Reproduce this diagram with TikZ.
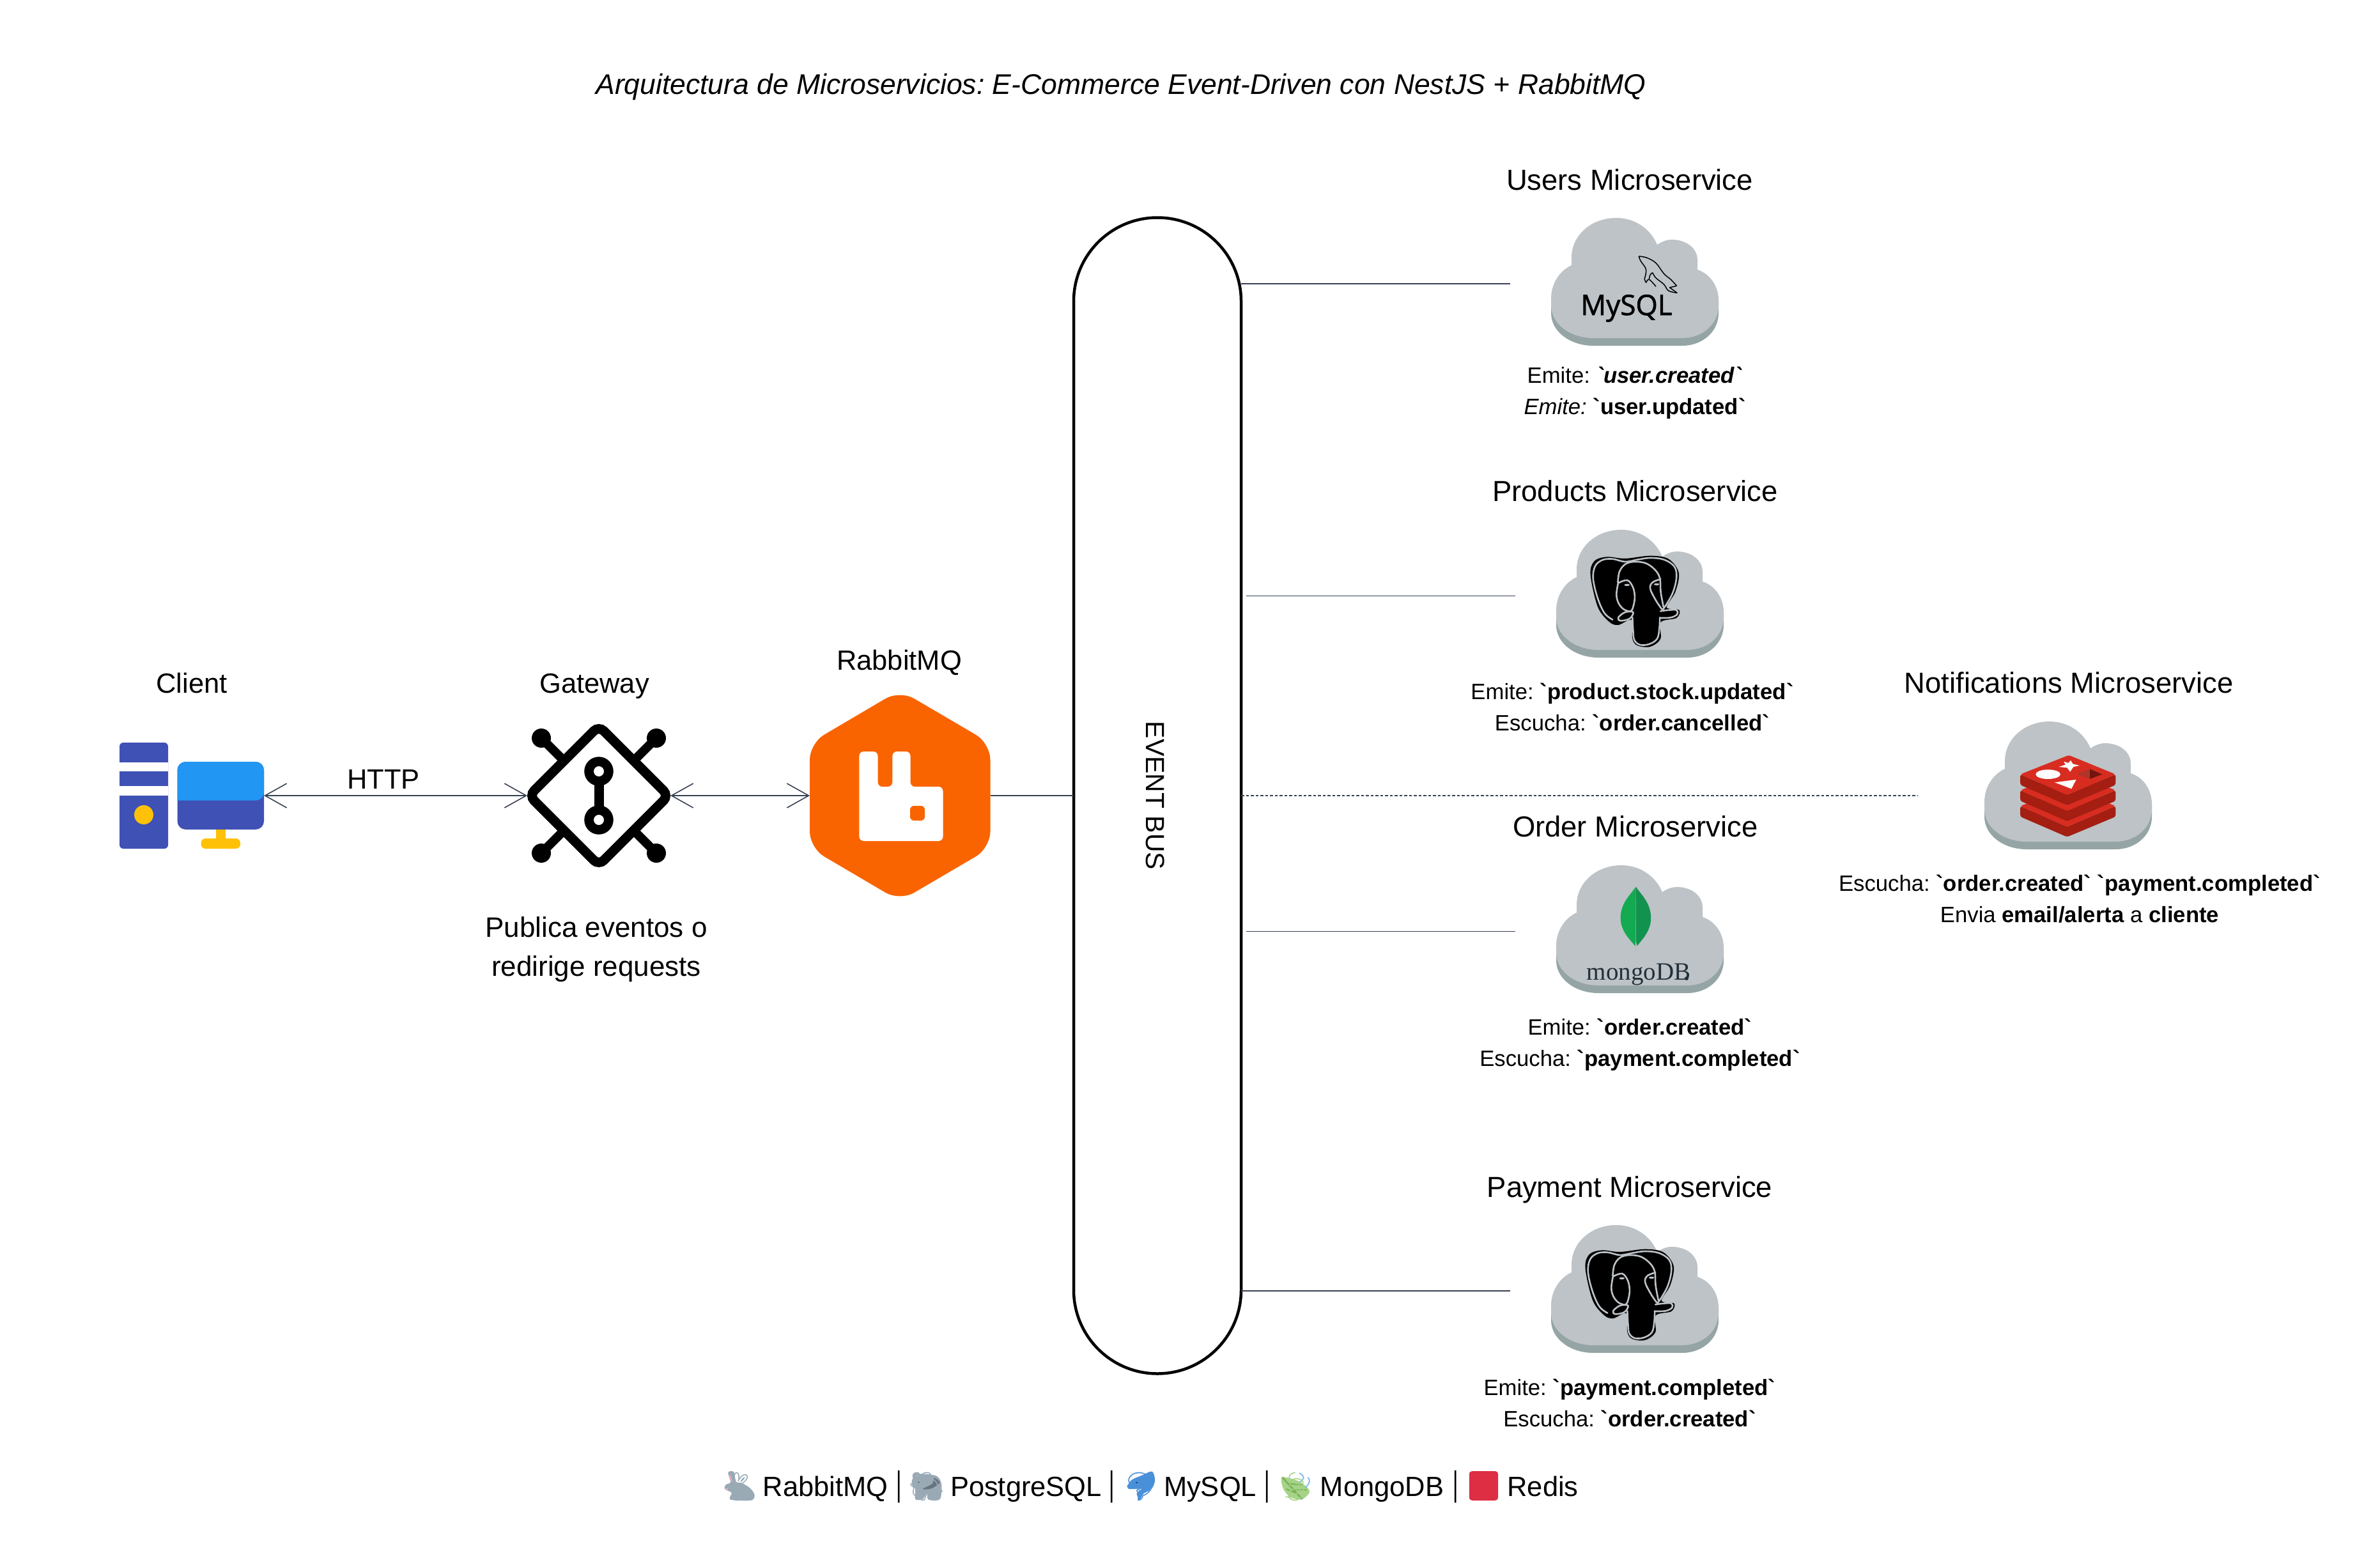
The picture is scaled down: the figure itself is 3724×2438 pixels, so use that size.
\documentclass[tikz,border=0pt]{standalone}
\usepackage{graphicx}
\usepackage{fontspec}
\setmainfont{Liberation Sans}[Ligatures=TeXOff]
\newfontfamily\emojifont{Noto Emoji}
\newfontfamily\mysqlfont{Open Sans}[Ligatures=TeXOff,FakeBold=1.6]
\newfontfamily\mongofont{Liberation Serif}[Ligatures=TeXOff]
\usetikzlibrary{arrows.meta}
\definecolor{linec}{HTML}{374151}
\definecolor{cloudtop}{HTML}{BDC3C7}
\definecolor{cloudbot}{HTML}{95A5A6}
\definecolor{rmq}{HTML}{F96400}
\definecolor{indigo}{HTML}{3F51B5}
\definecolor{skyb}{HTML}{2196F3}
\definecolor{amber}{HTML}{FFC107}
\definecolor{redl}{HTML}{D82C20}
\definecolor{redd}{HTML}{A41E11}
\definecolor{leafl}{HTML}{13AA52}
\definecolor{leafd}{HTML}{12924F}
\definecolor{mongot}{HTML}{23303A}
\definecolor{emgray}{HTML}{99AAB5}
\definecolor{emdark}{HTML}{66757F}
\definecolor{emblue}{HTML}{4A90D9}
\definecolor{emgreen}{HTML}{A6D388}
\definecolor{emvein}{HTML}{77B255}
\definecolor{emsky}{HTML}{7FB8E8}
\definecolor{emred}{HTML}{DD2E44}
\definecolor{empink}{HTML}{F4ABBA}
\newcommand{\fs}[1]{\fontsize{#1}{#1}\selectfont}
\newcommand{\pipechar}{\scalebox{0.6}[1]{|}}
\tikzset{
  iconbox/.style={inner sep=0pt,outer sep=0pt,draw=none},
  lab/.style={inner sep=0pt,outer sep=0pt,anchor=base,font=\fs{43.5}},
  svc/.style={lab,font=\fs{45.4}},
  evt/.style={inner sep=0pt,outer sep=0pt,anchor=base,align=center,font=\fontsize{34.7}{49}\selectfont\frenchspacing},
  conn/.style={draw=linec,line width=2pt},
  connthin/.style={draw=linec,line width=1.3pt},
  biarrow/.style={conn,{Straight Barb[length=34pt,width=38pt,line width=1.6pt]}-{Straight Barb[length=34pt,width=38pt,line width=1.6pt]}},
  leg/.style={inner sep=0pt,outer sep=0pt,anchor=base,font=\fs{43.5}},
  pipe/.style={inner sep=0pt,outer sep=0pt,anchor=base,font=\fs{54}},
  emo/.style={inner sep=0pt,outer sep=0pt,anchor=center,font=\emojifont\fs{44}},
}
\newcommand{\cloudicon}[2]{%
  \begin{scope}[shift={(#1,#2)}]
    \fill[cloudbot] (0,149) .. controls (0,178) and (30,200) .. (66,200) -- (205,200) .. controls (237,200) and (262,178) .. (262,149) -- (262,129) -- (0,129) -- cycle;
    \fill[cloudtop] (0,137) .. controls (0,166) and (30,188) .. (66,188) -- (205,188) .. controls (237,188) and (262,166) .. (262,137) -- (262,129) .. controls (262,108) and (250,88) .. (229,81) -- (229,66) .. controls (229,47) and (211,34) .. (189,34) .. controls (181,34) and (173,37) .. (166,42) .. controls (155,16) and (130,0) .. (102,0) .. controls (63,0) and (32,27) .. (32,62) -- (32,74) .. controls (13,83) and (0,103) .. (0,126) -- cycle;
  \end{scope}}
\newcommand{\elephant}[2]{%
  \begin{scope}[shift={(#1,#2)},xscale=0.3571,yscale=0.3333,shift={(-378,-268)}]
    \fill[black] plot[smooth cycle,tension=0.55] coordinates {(528,480) (545,415) (600,395) (680,403) (790,390) (870,405) (915,470) (900,560) (862,632) (917,645) (905,682) (836,702) (835,780) (790,817) (735,812) (712,780) (708,692) (650,715) (610,700) (560,630)};
    \begin{scope}[draw=cloudtop,line width=2.6pt,line cap=round]
      \draw plot[smooth,tension=0.6] coordinates {(625,690) (590,660) (560,590) (540,500) (548,440) (580,410) (625,405) (680,418) (735,408) (790,400) (850,408) (895,440) (905,490) (890,560) (860,620) (842,645)};
      \draw plot[smooth,tension=0.6] coordinates {(648,515) (655,465) (680,430) (720,418) (770,425) (810,455) (832,495) (836,560) (848,630)};
      \draw plot[smooth,tension=0.6] coordinates {(650,515) (642,570) (650,610) (672,640) (700,652)};
      \draw plot[smooth,tension=0.6] coordinates {(652,517) (690,505) (715,540) (722,590) (712,640) (700,652)};
      \draw plot[smooth,tension=0.6] coordinates {(835,500) (800,515) (790,545) (815,600) (840,640)};
      \draw plot[smooth cycle,tension=0.6] coordinates {(715,655) (680,655) (650,680) (660,695) (700,685)};
      \draw plot[smooth,tension=0.6] coordinates {(835,650) (870,645) (905,645) (908,665) (880,680) (835,682)};
      \draw plot[smooth,tension=0.6] coordinates {(712,680) (715,740) (720,785) (745,808) (785,805) (820,780) (830,730) (832,680)};
    \end{scope}
    \fill[cloudtop] (688,527) ellipse (12 and 5);
    \fill[cloudtop] (818,524) ellipse (12 and 5);
  \end{scope}}
\newcommand{\redislayer}[1]{%
  \fill[redd,rounded corners=3pt] (595,515+#1) -- (735,612+#1) -- (880,515+#1) -- (880,565+#1) -- (735,660+#1) -- (595,565+#1) -- cycle;
  \fill[redl,rounded corners=3pt] (740,425+#1) -- (880,515+#1) -- (735,612+#1) -- (595,515+#1) -- cycle;}
\begin{document}
\begin{tikzpicture}[x=1pt,y=-1pt]
\useasboundingbox (0,0) rectangle (3724,2438);
\fill[white] (0,0) rectangle (3724,2438);

% title
\node[lab,font=\itshape\fs{44.5}\frenchspacing] (title) at (1754,147) {Arquitectura de Microservicios: E-Commerce Event-Driven con NestJS + RabbitMQ};

% ---------- client
\node[iconbox,minimum width=226pt,minimum height=166pt] (client) at (300,1245) {};
\fill[indigo,rounded corners=6pt] (187,1162) rectangle (263,1328);
\fill[white] (187,1192.5) rectangle (263,1207);
\fill[white] (187,1230) rectangle (263,1245);
\fill[amber] (225,1275) ellipse (15 and 15);
\fill[amber] (337.5,1296) rectangle (353,1315);
\fill[amber,rounded corners=7pt] (314.5,1312) rectangle (376,1328);
\fill[indigo,rounded corners=13pt] (277.5,1192) rectangle (413,1298);
\fill[skyb,rounded corners=13pt] (277.5,1252.6) -- (277.5,1192) -- (413,1192) -- (413,1252.6) [sharp corners] -- cycle;
\node[lab] (clientlab) at (300,1084) {Client};

% ---------- gateway
\node[iconbox,minimum width=224pt,minimum height=226pt] (gateway) at (937,1245) {};
\draw[line width=14pt] (847,1155) -- (887,1195);
\draw[line width=14pt] (1027,1155) -- (987,1195);
\draw[line width=14pt] (847,1335) -- (887,1295);
\draw[line width=14pt] (1027,1335) -- (987,1295);
\fill (847,1155) circle (15);
\fill (1027,1155) circle (15);
\fill (847,1335) circle (15);
\fill (1027,1335) circle (15);
\draw[line width=15pt,rounded corners=11pt,fill=white] (937,1136) -- (1046,1245) -- (937,1354) -- (828,1245) -- cycle;
\draw[line width=15pt] (937,1207) -- (937,1283);
\draw[line width=14.7pt,fill=white] (937,1207) circle (15.4);
\draw[line width=14.7pt,fill=white] (937,1283) circle (15.4);
\node[lab] (gatewaylab) at (930,1084) {Gateway};
\node[lab,align=center,font=\fontsize{44}{61}\selectfont] (gatewaynote) at (933,1527) {Publica eventos o\\redirige requests};

% ---------- rabbitmq
\node[iconbox,minimum width=282.5pt,minimum height=314pt] (rabbit) at (1408.25,1245) {};
\fill[rmq,rounded corners=26pt] (1408,1080) -- (1549.5,1163) -- (1549.5,1327) -- (1408,1410) -- (1267,1327) -- (1267,1163) -- cycle;
\fill[white,rounded corners=7pt] (1344.4,1176) -- (1373.5,1176) -- (1373.5,1231) -- (1396.4,1231) -- (1396.4,1176) -- (1424.5,1176) -- (1424.5,1231) -- (1475.5,1231) -- (1475.5,1316) -- (1344.4,1316) -- cycle;
\fill[rmq,rounded corners=6pt] (1424,1261) rectangle (1447,1284);
\node[lab] (rabbitlab) at (1407,1048) {RabbitMQ};

% ---------- bus
\node[draw=black,line width=4.5pt,fill=white,inner sep=0pt,outer sep=0pt,rounded corners=131pt,minimum width=262pt,minimum height=1809pt] (bus) at (1811,1245) {};
\node[rotate=-90,inner sep=0pt,outer sep=0pt,font=\fs{41}] (bustext) at (1808,1245) {EVENT BUS};

% ---------- clouds
\node[iconbox,minimum width=262pt,minimum height=200pt] (cusers) at (2558,441) {};
\node[iconbox,minimum width=262pt,minimum height=200pt] (cprod) at (2566,929) {};
\node[iconbox,minimum width=262pt,minimum height=200pt] (corder) at (2566,1454) {};
\node[iconbox,minimum width=262pt,minimum height=200pt] (cpay) at (2558,2017) {};
\node[iconbox,minimum width=263pt,minimum height=200pt] (cnotif) at (3236,1229) {};
\cloudicon{2427}{341}
\cloudicon{2435}{829}
\cloudicon{2435}{1354}
\cloudicon{2427}{1917}
\cloudicon{3105}{1129}

% mysql logo
\node[inner sep=0pt,anchor=base,font=\mysqlfont\fs{44}] (mysqltext) at (2545,493) {MySQL};
\begin{scope}[shift={(2300,240)},xscale=0.3571,yscale=0.3333,line width=1.5pt,line join=round]
  \draw plot[smooth,tension=0.6] coordinates {(740,483) (775,490) (815,515) (850,565) (880,592) (906,622)};
  \draw (906,622) -- (875,630) -- (908,655);
  \draw plot[smooth,tension=0.6] coordinates {(908,655) (870,645) (850,615) (815,585) (800,560)};
  \draw plot[smooth,tension=0.6] coordinates {(740,483) (748,505) (770,540) (770,570) (765,590) (772,607)};
  \draw plot[smooth,tension=0.6] coordinates {(772,607) (785,592) (815,625)};
  \draw plot[smooth,tension=0.6] coordinates {(785,590) (790,570) (800,560)};
\end{scope}

% postgres logos
\elephant{2435}{829}
\elephant{2427}{1914}

% mongo logo
\begin{scope}[shift={(2300,1270)},xscale=0.3571,yscale=0.3333]
  \draw[cloudbot!70,line width=1pt] (727,625) -- (727,668);
  \fill[leafl] (727,353) .. controls (700,395) and (660,430) .. (660,500) .. controls (660,560) and (700,600) .. (725,632) -- cycle;
  \fill[leafd] (727,353) .. controls (754,395) and (793,430) .. (793,500) .. controls (793,560) and (755,600) .. (733,630) -- (727,610) -- cycle;
\end{scope}
\node[inner sep=0pt,anchor=base,text=mongot,font=\mongofont\fs{39}] (mongotext) at (2564,1533) {mongoDB};
\fill[mongot] (2639,1531) circle (3);

% redis logo
\begin{scope}[shift={(2850,1040)},xscale=0.523,yscale=0.3333]
  \redislayer{149}
  \redislayer{75}
  \redislayer{0}
  \fill[white] (678,515) ellipse (37 and 22);
  \fill[white] (746,450) -- (752,466) -- (772,474) -- (754,480) -- (744,503) -- (735,484) -- (710,480) -- (730,470) -- (725,455) -- (738,462) -- cycle;
  \fill[white] (762,540) -- (698,553) -- (748,583) -- cycle;
  \fill[redd!90] (803,490) -- (765,513) -- (803,537) -- cycle;
  \fill[redd!70!black] (803,490) -- (840,515) -- (803,537) -- cycle;
\end{scope}

% ---------- connector ends
\coordinate (usersend) at (2362.5,444.3);
\coordinate (prodstart) at (1950,932.3);
\coordinate (prodend) at (2370.7,932.3);
\coordinate (orderstart) at (1950,1457.7);
\coordinate (orderend) at (2370.7,1457.7);
\coordinate (payend) at (2362.5,2020);
\coordinate (notifend) at (3000.6,1244.5);

\draw[biarrow] (client.east) -- (gateway.west);
\draw[biarrow] (gateway.east) -- (rabbit.west);
\draw[conn] (rabbit.east) -- (bus.west);
\draw[conn] (bus.east |- usersend) -- (usersend);
\draw[connthin] (prodstart) -- (prodend);
\draw[connthin] (orderstart) -- (orderend);
\draw[conn] (bus.east |- payend) -- (payend);
\draw[draw=linec,line width=2pt,dash pattern=on 4.5pt off 3pt] (bus.east |- notifend) -- (notifend);
\node[lab] (http) at (600,1234) {HTTP};

% ---------- service titles
\node[svc] (tusers) at (2550,297) {Users Microservice};
\node[svc] (tprod) at (2558.6,784) {Products Microservice};
\node[svc] (torder) at (2558.7,1309) {Order Microservice};
\node[svc] (tpay) at (2550,1873) {Payment Microservice};
\node[svc] (tnotif) at (3237,1084) {Notifications Microservice};

% ---------- events
\node[evt] (eusers) at (2558,648) {Emite: \textbf{\textit{`user.created`}}\\\textit{Emite:} \textbf{`user.updated`}};
\node[evt] (eprod) at (2554,1143) {Emite: \textbf{`product.stock.updated`}\\Escucha: \textbf{`order.cancelled`}};
\node[evt] (eorder) at (2566,1668) {Emite: \textbf{`order.created`}\\Escucha: \textbf{`payment.completed`}};
\node[evt] (epay) at (2550,2232) {Emite: \textbf{`payment.completed`}\\Escucha: \textbf{`order.created`}};
\node[evt] (enotif) at (3254,1443) {Escucha: \textbf{`order.created`} \textbf{`payment.completed`}\\Envia \textbf{email/alerta} a \textbf{cliente}};

% ---------- legend: solid emoji bodies under the emoji glyphs
\begin{scope}[shift={(1100,2280)},xscale=0.8929,yscale=0.3333]
  \fill[emgray] plot[smooth cycle,tension=0.5] coordinates {(44,72) (48,118) (40,130) (38,150) (50,168) (48,200) (85,203) (90,175) (82,145) (68,122) (58,116) (54,70)};
  \draw[empink,line width=2pt] (47,85) -- (50,115);
  \fill[empink] (41,150) circle (3);
  \fill[emgray] plot[smooth cycle,tension=0.5] coordinates {(368,100) (385,80) (410,90) (418,130) (415,198) (395,200) (392,170) (385,198) (372,198) (372,150) (366,130)};
  \fill[emdark] plot[smooth cycle,tension=0.5] coordinates {(405,98) (415,120) (400,148) (385,150) (402,125)};
  \fill[black!70] (378,118) circle (2);
  \fill[emblue] plot[smooth cycle,tension=0.5] coordinates {(787,68) (792,110) (786,150) (772,172) (765,200) (760,170) (768,150) (745,148) (750,110) (770,85)};
  \fill[black] (760,120) circle (2);
  \fill[emgreen] plot[smooth cycle,tension=0.5] coordinates {(1015,95) (1045,115) (1063,160) (1050,198) (1030,190) (1017,150)};
  \draw[emvein,line width=2.5pt] (1015,95) -- (1050,198);
  \draw[emvein,line width=2pt] (1025,125) -- (1050,130) (1032,150) -- (1058,155) (1022,150) -- (1040,170);
  \draw[emsky,line width=1.8pt] (1045,75) .. controls (1055,90) and (1055,100) .. (1045,120);
  \draw[emsky,line width=1.8pt] (1060,95) .. controls (1065,110) and (1063,125) .. (1055,145);
\end{scope}
\fill[emred,rounded corners=5pt] (2299,2302) rectangle (2344,2348);
\node[emo,text=emgray] (l1) at (1157,2326) {🐇};
\node[leg] (l1t) at (1291.5,2341) {RabbitMQ};
\node[pipe] (s1) at (1407,2340) {\pipechar};
\node[emo,text=emgray] (l2) at (1450,2326) {🐘};
\node[leg] (l2t) at (1605.5,2341) {PostgreSQL};
\node[pipe] (s2) at (1740,2340) {\pipechar};
\node[emo,text=emblue] (l3) at (1785,2326) {🐬};
\node[leg] (l3t) at (1893.5,2341) {MySQL};
\node[pipe] (s3) at (1983,2340) {\pipechar};
\node[emo,text=emgreen] (l4) at (2026,2326) {🍃};
\node[leg] (l4t) at (2162.5,2341) {MongoDB};
\node[pipe] (s4) at (2278,2340) {\pipechar};
\node[emo,text=emred] (l5) at (2321.5,2325) {🟥};
\node[leg] (l5t) at (2414,2341) {Redis};
\end{tikzpicture}
\end{document}
